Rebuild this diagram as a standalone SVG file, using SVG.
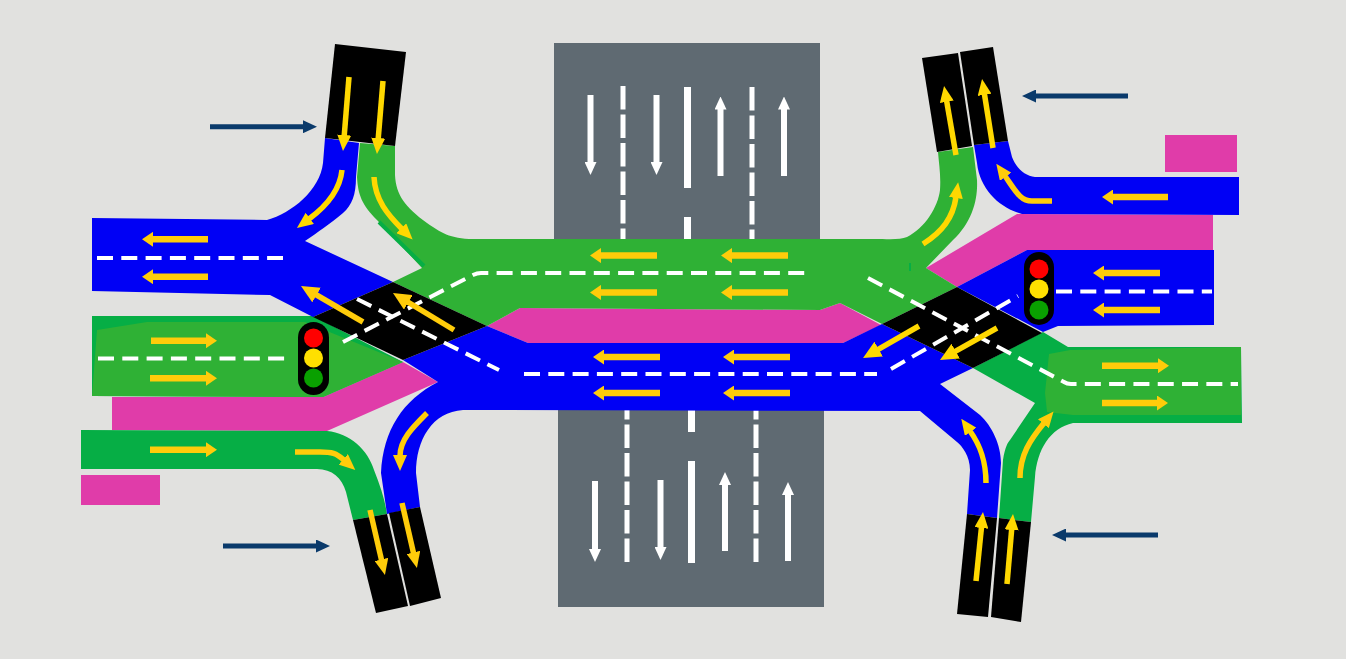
<svg xmlns="http://www.w3.org/2000/svg" width="1346" height="659" viewBox="0 0 1346 659">
<defs>
<marker id="y" viewBox="0 0 16 14" refX="1" refY="7" markerWidth="16" markerHeight="14" markerUnits="userSpaceOnUse" orient="auto"><path d="M0 0L16 7L0 14z" fill="#ffd800"/></marker>
<marker id="c" viewBox="0 0 16 14" refX="1" refY="7" markerWidth="16" markerHeight="14" markerUnits="userSpaceOnUse" orient="auto"><path d="M0 0L16 7L0 14z" fill="#ffcc0a"/></marker>
<marker id="jy" viewBox="0 0 18 17" refX="1" refY="8.500" markerWidth="18" markerHeight="17" markerUnits="userSpaceOnUse" orient="auto"><path d="M0 0L18 8.500L0 17z" fill="#ffd800"/></marker>
<marker id="jc" viewBox="0 0 18 17" refX="1" refY="8.500" markerWidth="18" markerHeight="17" markerUnits="userSpaceOnUse" orient="auto"><path d="M0 0L18 8.500L0 17z" fill="#ffcc0a"/></marker>
<marker id="o" viewBox="0 0 11 15" refX="1" refY="7.500" markerWidth="11" markerHeight="15" markerUnits="userSpaceOnUse" orient="auto"><path d="M0 0L11 7.500L0 15z" fill="#ffcc0a"/></marker>
<marker id="w" viewBox="0 0 13 12" refX="1" refY="6" markerWidth="13" markerHeight="12" markerUnits="userSpaceOnUse" orient="auto"><path d="M0 0L13 6L0 12z" fill="#fff"/></marker>
<marker id="n" viewBox="0 0 14 13" refX="1" refY="6.500" markerWidth="14" markerHeight="13" markerUnits="userSpaceOnUse" orient="auto"><path d="M0 0L14 6.500L0 13z" fill="#0a3a6b"/></marker>
</defs>
<style>
.o{fill:none;stroke:#ffcc0a;stroke-width:6.500;marker-end:url(#o)}
.yl{fill:none;stroke:#ffd800;stroke-width:5.500;marker-end:url(#y)}
.cl{fill:none;stroke:#ffcc0a;stroke-width:5.500;marker-end:url(#c)}
.jy{fill:none;stroke:#ffd800;stroke-width:5.500;marker-end:url(#jy)}
.jc{fill:none;stroke:#ffcc0a;stroke-width:5.500;marker-end:url(#jc)}
.wa{stroke:#fff;stroke-width:6;fill:none;marker-end:url(#w)}
.dash{fill:none;stroke:#fff;stroke-width:4;stroke-dasharray:16 8.300}
.vd{fill:none;stroke:#fff;stroke-width:5;stroke-dasharray:23.500 5}
.nv{stroke:#0a3a6b;stroke-width:5;fill:none;marker-end:url(#n)}
.bl{fill:#0000f5}.gr{fill:#2fb135}.gd{fill:#06ae45}.pk{fill:#e03ca9}.bk{fill:#000}.gy{fill:#5f6a72}.wh{fill:#fff}
</style>
<rect width="1346" height="659" fill="#e1e1df"/>
<g id="north-road"><rect class="gy" x="554" y="43" width="266" height="200"/>
<path class="vd" d="M623 86V239"/><path class="vd" d="M752 87V239"/>
<rect class="wh" x="684" y="87" width="7" height="101"/><rect class="wh" x="684" y="217" width="7" height="22"/>
<path class="wa" d="M590.500 95V163"/><path class="wa" d="M656.500 95V163"/><path class="wa" d="M720.500 176V108.500"/><path class="wa" d="M784 176V108.500"/></g>
<g id="south-road"><rect class="gy" x="558" y="400" width="266" height="207"/>
<path class="vd" d="M627 410V563" stroke-dashoffset="14"/><path class="vd" d="M756 410V563" stroke-dashoffset="14"/>
<rect class="wh" x="688" y="405" width="7" height="27"/><rect class="wh" x="688" y="461" width="7" height="102"/>
<path class="wa" d="M595 481V550"/><path class="wa" d="M660.500 480V548"/><path class="wa" d="M725 551V484"/><path class="wa" d="M788 561V494"/></g>

<g id="pink-median">
<path class="pk" d="M112 397H323L403 362L438 382L327 431L112 430z"/>
<path class="pk" d="M487 326L520 308L820 310L840 303L881 325L843 343H528z"/>
<path class="pk" d="M926 268L1017 214L1213 215V250H1027L957 287z"/>
<rect class="pk" x="81" y="475" width="79" height="30"/><rect class="pk" x="1165" y="135" width="72" height="37"/>
</g>

<g id="green-lanes">
<path class="gd" d="M92 316H313L403 362L323 397L92 396z"/>
<path class="gr" d="M97 330L147 322L305 322L403 362L323 397L92 396z"/>
<path class="gr" d="M360 143L395 146L395 175C396 195 405 207 427 223C440 232 450 239 473 239H873C890 239 900 240 907 237C925 228 938 207 940 190C941 175 939 165 938 152L973 147L977 180C978 200 972 222 953 240L926 268L957 287L882 324L840 303L820 310L520 308L487 326L393 282L422 268L377 220C362 205 358 195 357 177z"/>
<path d="M379 222L424 266" fill="none" stroke="#06ae45" stroke-width="4"/>
<path d="M910 263V271" fill="none" stroke="#06ae45" stroke-width="2"/>
<path class="gd" d="M81 430L327 431C350 433 368 450 374 470C380 485 385 500 387 514L353 520L346 492C342 478 332 469 317 469L81 469z"/>
<path class="gd" d="M1043 332L1068 347H1241L1242 423H1073C1050 428 1037 450 1035 477L1031 522L999 518L1003 460C1005 447 1008 442 1010 440L1035 403L973 368z"/>
<path class="gr" d="M1049 354L1070 350L1241 347V415H1073L1047 412L1045 393z"/>
</g>

<g id="blue-lanes">
<path class="bl" d="M92 218L267 220C292 213 320 190 323 163L325 138L359 143L356 177C356 195 352 205 343 213C330 224 318 232 305 241L393 282L313 317L270 295L92 291z"/>
<path class="bl" d="M487 326L528 343H843L882 324L973 368L940 384L980 415C992 426 1001 445 1001 463L997 518L967 514L970 470C970 456 962 446 957 442L920 411L463 410C432 412 416 440 416 473L420 507L387 514L381 473C383 430 403 400 438 382L403 360z"/>
<path class="bl" d="M974 145L1008 141L1012 157C1016 168 1025 176 1035 177H1239V215L1022 214C1000 208 980 190 977 163z"/>
<path class="bl" d="M1027 250H1214V325L1058 326L1043 332L957 287z"/>
</g>

<g id="junction-black">
<path class="bk" d="M313 317L393 282L487 326L403 360z"/>
<path class="bk" d="M882 324L957 287L1042 333L973 368z"/>
</g>

<g id="lane-markings">
<path class="dash" d="M97 258H283"/>
<path class="dash" d="M98 358.500H285"/>
<path class="dash" d="M343 342L473 275Q477 273 481 273H806"/>
<path class="dash" d="M357 299L499 370"/>
<path class="dash" d="M524 374H877"/>
<path class="dash" d="M891 369L1018 296"/>
<path class="dash" d="M868 278L1064 382Q1067 384 1071 384H1238"/>
<path class="dash" d="M1056 291.500H1212"/>
</g>

<g id="road-ends">
<path class="bk" d="M335 44L406 52L395 146L325 138z"/>
<path class="bk" d="M922 58L958 53L972 146L937 152z"/><path class="bk" d="M960 52L993 47L1008 141L974 145z"/>
<path class="bk" d="M353 520L387 514L408 606L376 613z"/><path class="bk" d="M389 513L420 507L441 598L410 606z"/>
<path class="bk" d="M967 514L997 518L988 617L957 614z"/><path class="bk" d="M999 518L1031 522L1021 622L991 617z"/>
</g>

<g id="direction-arrows">
<path class="o" d="M208 239.300H152"/><path class="o" d="M208 276.700H152"/>
<path class="o" d="M151 340.700H207"/><path class="o" d="M150 378.300H207"/><path class="o" d="M150 449.700H207"/>
<path class="o" d="M657 255.600H600"/><path class="o" d="M657 292.400H600"/><path class="o" d="M788 255.600H731"/><path class="o" d="M788 292.400H731"/>
<path class="o" d="M660 357H603"/><path class="o" d="M660 393H603"/><path class="o" d="M790 357H733"/><path class="o" d="M790 393H733"/>
<path class="o" d="M1160 273H1103"/><path class="o" d="M1160 310H1103"/><path class="o" d="M1168 197H1112"/>
<path class="o" d="M1102 365.700H1159"/><path class="o" d="M1102 403H1158"/>
<path class="jc" d="M363 322L315.700 294.500"/><path class="jc" d="M454 330L407.500 301.800"/>
<path class="jy" d="M919 326L877.800 349.600"/><path class="jy" d="M997 328L954.800 351.700"/>
<path class="cl" d="M295 452H320C332 452 336 453 344 460"/>
<path class="cl" d="M427 413C412 428 400 440 400 456"/>
<path class="cl" d="M1052 201H1032C1020 201 1015 190 1005 176"/>
<path class="cl" d="M1020 478C1020 455 1030 440 1044 423"/>
<path class="yl" d="M342 170C340 190 328 205 309 219"/>
<path class="yl" d="M374 177C375 200 388 215 402 229"/>
<path class="yl" d="M923 244C942 232 953 218 956 197"/>
<path class="yl" d="M986 483C986 460 980 445 970 431"/>
<path class="yl" d="M349 77L344.200 136"/><path class="yl" d="M383 81L378.200 139"/>
<path class="yl" d="M956 155L946.600 100.800"/><path class="yl" d="M993 148L984.400 93.800"/>
<path class="cl" d="M370 510L381.600 560.400"/><path class="cl" d="M402 503L413.600 553.400"/>
<path class="yl" d="M976 581L981.500 527"/><path class="yl" d="M1007 584L1011.700 529"/>
</g>

<g id="signal-left"><rect class="bk" x="298" y="322" width="31" height="73" rx="15.500"/><circle cx="313.500" cy="338" r="9.500" fill="#f00"/><circle cx="313.500" cy="358" r="9.500" fill="#ffe000"/><circle cx="313.500" cy="378" r="9.500" fill="#09a000"/></g>
<g id="signal-right"><rect class="bk" x="1024" y="252" width="30" height="73" rx="15"/><circle cx="1039" cy="269" r="9.500" fill="#f00"/><circle cx="1039" cy="289" r="9.500" fill="#ffe000"/><circle cx="1039" cy="310" r="9.500" fill="#09a000"/></g>

<g id="pointer-arrows">
<path class="nv" d="M210 126.700H304"/><path class="nv" d="M223 546H317"/><path class="nv" d="M1128 96H1035"/><path class="nv" d="M1158 535H1065"/>
</g>
</svg>
